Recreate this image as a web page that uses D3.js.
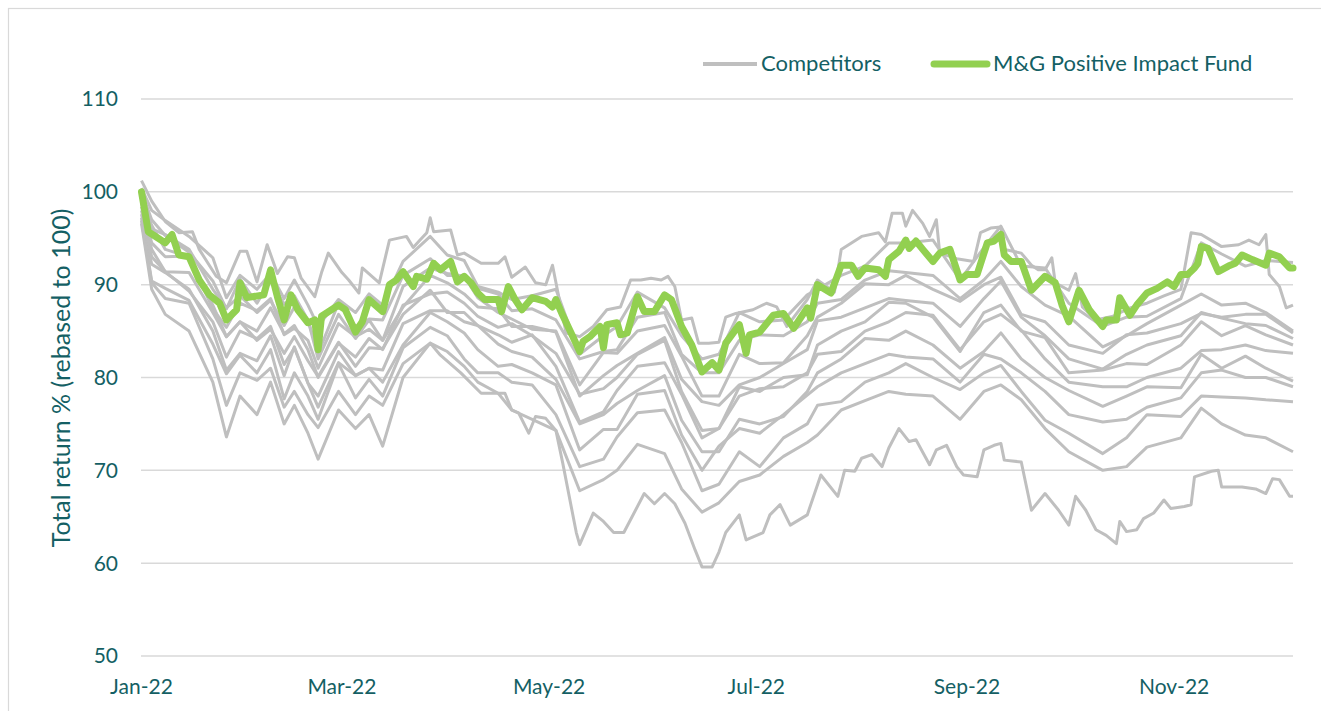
<!DOCTYPE html>
<html>
<head>
<meta charset="utf-8">
<script src="https://cdn.jsdelivr.net/npm/d3@7"></script>
<style>
  body { margin: 0; background: #fff; }
  svg text { font-family: Lato, "Open Sans", sans-serif; fill: #145f64; }
</style>
</head>
<body>
<svg id="chart" width="1321" height="711"></svg>
<script>
// All days are counted from 1 Jan 2022

// Highest competitor line, read closely
const leaderDays = [0,3,7,11,15,17,22,25,29,31, 34,37,40,43,45,47,51,53,55,59,
  61,64,65,70,73,78,80,82,84,85, 86,91,93,95,100,105,107,109,113,116,
  119,121,123,125,129,133,137,141,144,147, 150,153,155,157,159,162,164,167,170,172,
  175,180,184,187,190,196,199,204,206,212, 217,219,221,224,225,227,230,232,234,235,
  240,245,247,250,253,254,259,262,264,266, 268,269,273,275,277,281,286,291,296,301,
  306,309,312,318,323,326,329,331,332,335, 337,339];
const leaderValues = [101.2,99.0,96.8,95.6,95.7,93.8,90.9,90.2,93.6,93.6, 90.3,94.3,91.2,93.0,92.9,90.7,88.7,91.3,93.4,91.3,
  90.5,89.1,91.8,90.2,94.8,95.2,94.0,94.8,95.6,97.2, 95.7,95.9,93.2,93.4,92.3,92.3,93.0,90.8,91.9,90.2,
  90.0,92.1,88.4,84.8,84.4,85.5,87.3,87.6,90.5,90.5, 90.7,90.5,90.9,89.8,86.2,86.4,83.7,83.7,83.8,86.5,
  86.9,87.3,88.0,87.6,85.5,88.4,90.5,89.2,93.8,95.2, 95.6,94.6,97.7,97.7,96.3,98.0,96.6,95.2,97.0,93.4,
  92.8,92.5,95.6,96.1,96.2,93.8,93.4,92.1,91.6,91.6, 92.9,90.2,89.4,91.2,87.6,86.2,86.6,87.5,88.0,88.8,
  89.5,95.6,95.4,94.1,94.3,94.8,94.3,95.4,91.1,89.8, 87.5,87.8];

// Lowest competitor line, read closely
const laggardDays = [0,3,7,14,21,25,29,34,38,42, 45,49,52,58,63,67,71,77,85,88,
  94,100,107,109,111,114,116,119,122,124, 128,129,133,136,139,142,148,151,154,157,
  160,163,165,168,170,172,176,178,183,185, 188,191,196,200,205,207,210,212,215,218,
  220,223,226,228,232,234,237,240,242,246, 248,251,253,254,259,262,266,270,273,275,
  278,281,284,287,288,290,293,295,298,301, 303,307,309,310,315,317,318,324,328,331,
  333,335,338,339];
const laggardValues = [96.6,89.5,86.8,85.0,79.5,73.6,78.0,76.0,79.5,75.0, 77.0,74.0,71.2,76.5,74.5,76.0,72.6,80.0,83.7,82.4,
  80.5,78.3,78.3,76.5,76.2,74.0,75.8,75.6,74.3,70.8, 63.3,62.0,65.4,64.5,63.3,63.3,67.5,66.4,67.5,66.4,
  64.3,61.4,59.6,59.6,61.2,63.3,65.2,62.5,63.3,65.2, 66.3,64.1,65.2,69.5,67.2,70.0,69.9,71.3,71.7,70.4,
  72.4,74.5,73.1,73.3,70.6,72.2,72.7,70.4,69.5,69.3, 72.2,72.7,72.9,71.1,70.9,65.7,67.5,65.7,64.1,67.2,
  65.7,63.6,63.0,62.1,64.5,63.4,63.6,64.8,65.4,66.8, 65.9,66.1,66.3,69.3,69.9,70.0,68.2,68.2,68.0,67.5,
  69.1,69.0,67.2,67.2];

// Days at which the other competitor lines were read
const peerDays = [0,3,7,14,21,25,29,34,38,42,45,49,52,58,63,67,71,77,85,90,
  95,99,105,109,115,122,129,136,140,146,154,159,165,170,176,182,189,196,199,206,
  213,220,225,233,241,248,253,259,266,273,283,290,296,306,312,318,325,331,339];

const peer2 = [100.4,98.0,96.9,95.2,92.9,88.6,91.0,89.5,91.2,88.5, 90.5,87.8,85.5,88.4,87.0,89.0,87.8,92.5,95.2,93.2,
  92.6,89.8,89.2,88.4,88.8,89.5,82.5,84.5,85.5,89.2, 87.5,84.5,82.0,82.5,87.0,86.0,86.2,88.9,89.5,91.0,
  92.0,94.5,94.5,94.8,90.5,94.0,96.3,92.0,91.8,88.0, 85.5,86.5,86.6,88.5,94.5,93.3,92.0,92.6,92.4];
const peer3 = [100.0,97.0,95.3,93.5,90.4,87.4,90.6,88.0,90.5,87.9, 88.8,86.2,82.6,88.0,85.5,86.3,86.2,91.0,92.8,91.0,
  91.0,89.6,89.0,87.2,87.4,86.2,82.0,82.8,83.0,86.5, 87.0,82.5,80.5,80.5,84.0,84.6,84.5,86.0,88.0,88.4,
  90.5,91.5,91.3,91.0,88.5,90.5,92.5,89.8,87.8,86.6, 83.3,84.5,85.8,87.8,89.0,87.8,88.0,87.0,85.0];
const peer4 = [99.6,96.0,95.4,93.8,89.5,87.5,88.8,87.0,88.3,85.6, 87.6,86.2,82.0,86.8,84.2,86.2,84.0,89.8,91.8,91.2,
  90.9,88.6,87.0,86.3,85.2,85.0,79.2,82.7,82.6,85.0, 85.6,82.3,78.0,78.0,82.5,81.5,81.6,84.5,86.5,88.0,
  90.1,90.0,91.0,89.5,88.2,90.0,90.8,86.8,86.0,83.5, 82.6,84.6,84.8,85.8,86.9,86.5,86.8,86.8,84.8];
const peer5 = [99.2,96.4,93.8,93.0,87.4,85.4,88.0,87.2,88.5,84.6, 85.3,84.0,81.0,85.8,84.4,85.2,84.0,87.6,91.0,90.2,
  89.0,87.6,87.4,85.5,85.5,84.9,78.0,80.2,81.3,82.6, 84.3,79.8,77.4,77.0,79.2,80.0,81.5,83.0,86.1,86.5,
  87.5,88.5,88.3,88.0,85.5,88.5,90.4,86.5,84.5,82.0, 80.9,82.5,83.5,84.5,87.0,86.4,85.8,85.6,84.2];
const peer6 = [98.8,94.5,93.0,93.1,87.8,84.4,86.0,85.0,87.5,84.7, 85.6,83.0,80.0,83.7,82.2,84.2,83.0,87.8,89.0,89.2,
  88.0,86.6,85.4,85.8,84.5,82.6,78.2,78.8,80.0,82.5, 84.0,78.5,74.3,74.5,79.0,78.5,80.0,80.3,83.5,85.0,
  86.0,88.1,88.0,86.5,82.8,87.0,87.8,85.0,84.3,80.5, 80.8,81.5,81.4,83.5,86.0,84.5,85.6,84.6,83.5];
const peer7 = [98.4,93.8,91.4,91.3,87.0,84.4,86.0,84.0,85.2,82.6, 84.4,81.8,80.1,83.8,81.2,83.2,83.1,86.8,89.4,87.0,
  87.0,85.6,84.6,83.8,84.6,81.2,75.2,76.3,78.6,81.2, 81.6,78.2,73.5,74.5,78.0,78.8,79.0,80.5,82.5,82.8,
  85.0,86.0,87.0,86.7,83.0,86.0,86.8,85.1,82.0,79.5, 79.0,79.0,80.0,81.0,82.9,83.0,83.5,82.9,82.6];
const peer8 = [98.0,93.0,91.4,89.3,86.0,82.2,85.0,84.2,85.5,81.4, 83.2,79.4,78.0,82.8,80.2,81.0,80.8,85.8,87.2,87.2,
  86.0,85.6,83.6,82.8,82.2,79.8,75.0,76.0,77.2,78.6, 80.2,75.4,72.0,72.0,75.5,75.0,75.8,78.5,80.5,82.0,
  84.2,84.0,85.0,83.5,81.0,82.8,84.8,82.0,80.0,78.6, 76.9,78.0,79.0,78.9,82.5,81.0,82.3,81.0,79.6];
const peer9 = [97.6,92.2,91.3,89.5,85.0,80.8,82.6,81.8,84.5,80.2, 83.3,79.4,76.8,81.6,80.2,81.0,79.5,83.5,87.0,86.0,
  84.8,83.0,81.2,81.4,80.5,79.2,72.2,74.4,74.4,78.2, 78.6,73.8,70.0,72.6,74.5,74.0,76.0,78.1,79.0,80.5,
  81.5,82.5,82.2,82.0,79.5,82.5,82.0,80.5,78.5,76.0, 75.2,75.5,76.8,77.8,80.5,80.8,80.0,80.0,79.0];
const peer10 = [97.2,90.4,89.6,88.3,83.6,80.4,82.4,80.5,83.0,77.7, 80.5,78.0,75.5,81.5,77.8,79.8,78.0,83.2,85.4,84.5,
  82.0,80.5,80.5,79.5,79.2,76.0,70.4,71.2,73.6,76.2, 76.5,73.0,67.8,68.5,72.0,70.4,73.5,75.0,77.0,77.4,
  79.5,80.5,81.5,80.0,78.7,80.5,81.3,78.5,75.4,74.0, 71.8,73.5,76.0,75.8,78.0,77.9,77.8,77.6,77.4];
const peer11 = [96.9,90.2,88.5,88.0,82.0,77.0,80.5,79.7,81.0,76.8, 78.5,76.0,74.6,78.5,76.0,78.0,77.0,81.5,83.7,82.8,
  81.2,79.5,78.3,76.5,75.5,74.3,67.8,69.0,70.0,72.8, 71.8,68.0,65.5,66.5,68.8,69.5,71.5,73.0,73.8,76.5,
  77.5,78.5,78.2,78.0,75.5,78.5,79.2,77.6,74.5,72.0, 70.0,70.4,72.5,73.5,76.7,75.0,73.8,73.5,72.0];

// M&G Positive Impact Fund
const fundDays = [0,2,7,9,11,14,17,20,23,25,28,29,31,36,38,40,42,44,46,49,
  51,52,53,58,60,63,65,67,71,73,75,77,80,81,84,86,88,91,93,95,
  97,99,101,105,106,108,110,112,115,119,121,122,124,127,129,130,132,135,136,137,
  140,141,143,146,148,151,154,156,159,162,165,168,170,172,176,178,179,182,186,189,
  192,196,197,199,203,206,209,211,213,217,219,220,223,225,226,228,230,233,235,238,
  241,243,246,249,251,253,254,256,259,262,266,269,271,273,276,279,283,284,287,288,
  291,293,296,299,302,304,306,308,310,311,312,314,317,320,322,324,327,331,332,335,338,339];
const fundValues = [100.0,95.7,94.5,95.4,93.2,93.0,90.5,88.9,88.0,86.2,87.3,90.2,88.6,88.9,91.6,88.7,86.2,88.9,87.3,85.9,
  86.2,83.0,86.6,87.8,87.3,84.9,86.0,88.4,87.1,90.0,90.5,91.4,89.8,90.9,90.6,92.3,91.6,92.5,90.3,90.9,
  90.2,89.1,88.4,88.4,87.1,89.8,88.4,87.3,88.6,88.2,87.6,88.4,86.7,84.4,82.8,83.9,84.4,85.5,83.2,85.7,
  85.9,84.6,84.8,88.7,87.1,87.1,88.9,88.4,85.5,83.5,80.6,81.6,80.8,83.7,85.7,82.6,84.6,84.9,86.7,86.9,
  85.3,87.5,86.4,90.0,89.1,92.1,92.1,90.9,91.8,91.6,90.9,92.7,93.6,94.8,93.9,94.7,93.8,92.5,93.4,93.8,
  90.5,91.1,91.1,94.5,94.7,95.4,93.2,92.5,92.5,89.4,90.9,90.2,87.8,86.0,89.4,87.3,85.5,86.2,86.2,88.6,
  86.7,87.8,89.1,89.6,90.3,89.8,91.1,91.1,91.8,92.3,94.1,93.9,91.4,92.0,92.3,93.2,92.7,92.1,93.4,93.0,91.8,91.8];

const yTicks = [50, 60, 70, 80, 90, 100, 110];
const xTickMonths = ['2022-01-01', '2022-03-01', '2022-05-01', '2022-07-01', '2022-09-01', '2022-11-01'];
const seriesNames = ['Competitors', 'M&G Positive Impact Fund'];

const grey = '#bfbfbf';
const green = '#92d050';
const gridColor = '#d9d9d9';

// pair every competitor's values with its days
const competitors = [
  { days: leaderDays, values: leaderValues },
  ...[peer2, peer3, peer4, peer5, peer6, peer7, peer8, peer9, peer10, peer11]
    .map(v => ({ days: peerDays, values: v })),
  { days: laggardDays, values: laggardValues }
];

const svg = d3.select('#chart');
const start = new Date(2022, 0, 1);
const toDate = n => d3.timeDay.offset(start, n);

const x = d3.scaleTime()
  .domain([start, toDate(339)])
  .range([141.5, 1293]);
const y = d3.scaleLinear().domain([50, 110]).range([656, 99]);

// chart frame (only the left and top edges fall inside the picture)
svg.append('rect')
  .attr('x', 8.5).attr('y', 8.5)
  .attr('width', 1330).attr('height', 720)
  .attr('fill', 'none').attr('stroke', gridColor).attr('stroke-width', 1.2);

// gridlines
svg.append('g').selectAll('line')
  .data(yTicks)
  .join('line')
  .attr('x1', 141).attr('x2', 1293)
  .attr('y1', d => y(d)).attr('y2', d => y(d))
  .attr('stroke', gridColor).attr('stroke-width', 1.5);

// y axis labels
svg.append('g').selectAll('text')
  .data(yTicks)
  .join('text')
  .attr('x', 118).attr('y', d => y(d))
  .attr('dy', '0.35em')
  .attr('text-anchor', 'end')
  .style('font-size', '21px')
  .text(d => d);

// x axis labels
const fmt = d3.timeFormat('%b-%y');
svg.append('g').selectAll('text')
  .data(xTickMonths.map(s => d3.timeParse('%Y-%m-%d')(s)))
  .join('text')
  .attr('x', d => x(d)).attr('y', 694)
  .attr('text-anchor', 'middle')
  .style('font-size', '21px')
  .text(d => fmt(d));

// y axis title
svg.append('text')
  .attr('transform', 'translate(70,378) rotate(-90)')
  .attr('text-anchor', 'middle')
  .style('font-size', '25px')
  .text('Total return % (rebased to 100)');

// competitor lines
svg.append('g').selectAll('path')
  .data(competitors)
  .join('path')
  .attr('d', s => d3.line()
    .x((d, i) => x(toDate(s.days[i])))
    .y(d => y(d))(s.values))
  .attr('fill', 'none')
  .attr('stroke', grey)
  .attr('stroke-width', 3)
  .attr('stroke-linejoin', 'round');

// fund line on top
const fundLine = d3.line()
  .x((d, i) => x(toDate(fundDays[i])))
  .y(d => y(d));

svg.append('path')
  .datum(fundValues)
  .attr('d', fundLine)
  .attr('fill', 'none')
  .attr('stroke', green)
  .attr('stroke-width', 7)
  .attr('stroke-linejoin', 'round')
  .attr('stroke-linecap', 'round');

// legend
const legend = svg.append('g');
legend.append('line')
  .attr('x1', 703).attr('x2', 757).attr('y1', 64).attr('y2', 64)
  .attr('stroke', grey).attr('stroke-width', 4);
legend.append('text')
  .attr('x', 761).attr('y', 71)
  .style('font-size', '22px')
  .text(seriesNames[0]);
legend.append('line')
  .attr('x1', 934).attr('x2', 987).attr('y1', 64).attr('y2', 64)
  .attr('stroke', green).attr('stroke-width', 7).attr('stroke-linecap', 'round');
legend.append('text')
  .attr('x', 993).attr('y', 71)
  .style('font-size', '22px')
  .text(seriesNames[1]);
</script>
</body>
</html>
